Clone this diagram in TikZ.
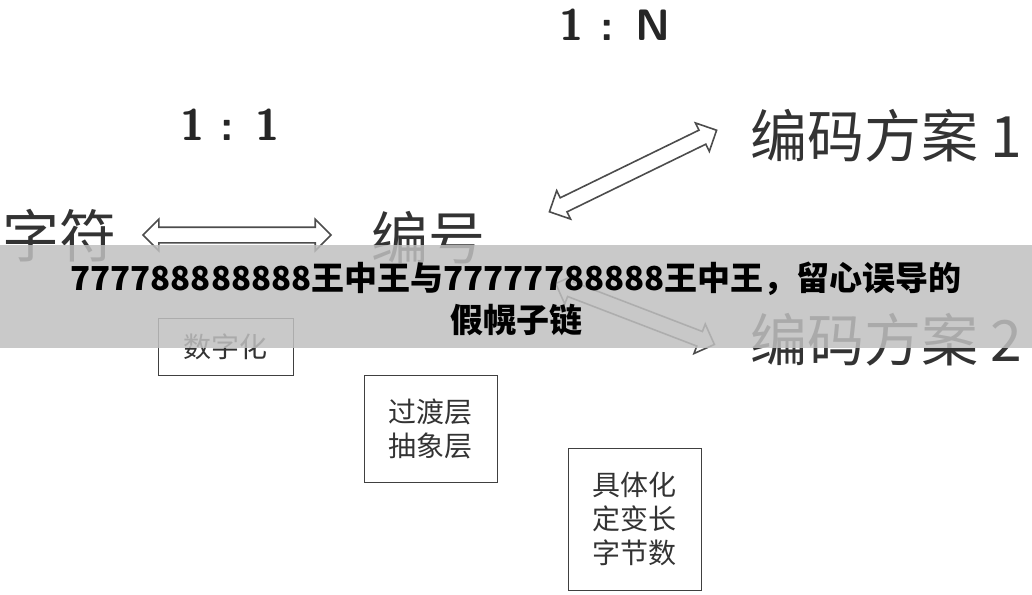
\documentclass[tikz,border=0pt]{standalone}
\usepackage{fontspec}
\newfontfamily\cjk{Noto Sans CJK SC}
\usetikzlibrary{shapes.arrows}
\begin{document}
\begin{tikzpicture}[x=1pt,y=-1pt]
    \tikzset{Big/.style={%
            font=\cjk\fontsize{57}{57}\selectfont,%
            text=black!80,%
            inner sep=0pt,%
        }}
    \tikzset{Ratio/.style={%
            font=\sffamily\bfseries\fontsize{44}{44}\selectfont,%
            text=black!85,%
        }}
    \tikzset{Box/.style={%
            draw=black!75,%
            line width=1pt,%
            font=\cjk\fontsize{28}{34}\selectfont,%
            text=black!80,%
            align=center,%
            inner sep=0pt,%
        }}
    \tikzset{Hollow/.style={%
            shape=double arrow,%
            draw=black!70,%
            line width=1.6pt,%
            fill=white,%
            double arrow head extend=8pt,%
            inner xsep=0pt,%
            inner ysep=7pt,%
        }}
    \useasboundingbox (0,0) rectangle (1032,594);

    \node[Ratio] (rN) at (615,25) {1 : N};
    \node[Ratio] (r1) at (230,125) {1 : 1};

    \node[Big, anchor=east] (zf) at (117,236) {字符};
    \node[Big] (bh) at (428,238) {编号};
    \node[Big, anchor=west] (fa1) at (750,136) {编码方案 1};
    \node[Big, anchor=west] (fa2) at (750,340) {编码方案 2};

    \node[Hollow, minimum height=188pt] (a1) at (237,235) {};
    \node[Hollow, minimum height=186pt, rotate=26] (a2) at (633,171) {};
    \node[Hollow, minimum height=170pt, rotate=-21] (a3) at (635,314) {};

    \node[Box, minimum width=135pt, minimum height=57pt] (b1) at (225.5,346.5) {数字化};
    \node[Box, minimum width=133pt, minimum height=107pt] (b2) at (430.5,428.5) {过渡层\\抽象层};
    \node[Box, minimum width=133pt, minimum height=142pt] (b3) at (634.5,519) {具体化\\定变长\\字节数};

    \fill[black!25, opacity=0.85] (0,245) rectangle (1032,348);
    \node[font=\cjk\bfseries\fontsize{33}{42}\selectfont, align=center] (ban) at (516,299)
        {777788888888王中王与77777788888王中王，留心误导的\\假幌子链};
\end{tikzpicture}
\end{document}
